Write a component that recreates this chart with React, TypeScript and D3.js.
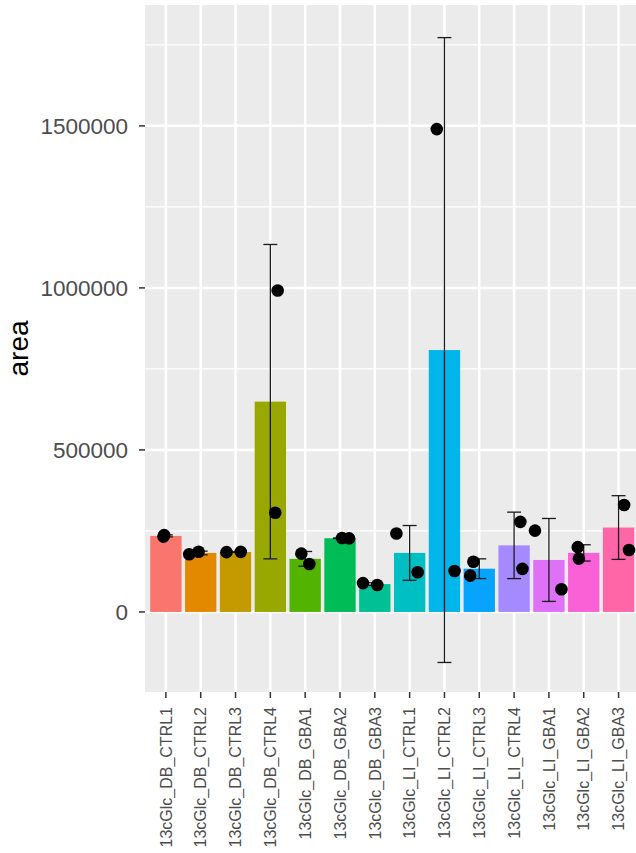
import React from "react";
import * as d3 from "d3";

const categories = [
  "13cGlc_DB_CTRL1", "13cGlc_DB_CTRL2", "13cGlc_DB_CTRL3", "13cGlc_DB_CTRL4",
  "13cGlc_DB_GBA1", "13cGlc_DB_GBA2", "13cGlc_DB_GBA3",
  "13cGlc_LI_CTRL1", "13cGlc_LI_CTRL2", "13cGlc_LI_CTRL3", "13cGlc_LI_CTRL4",
  "13cGlc_LI_GBA1", "13cGlc_LI_GBA2", "13cGlc_LI_GBA3",
];

// replicate measurements (two per sample)
const replicateA = [237000, 178000, 184500, 992000, 180000, 228000, 89000, 242000, 1490000, 155000, 278000, 251000, 200000, 330000];
const replicateB = [232500, 186000, 185500, 306000, 148000, 227000, 83000, 122500, 126500, 112000, 133000, 70000, 164500, 191000];
// horizontal jitter offsets (in category units)
const jitterA = [-0.05, -0.33, -0.26, 0.21, -0.11, 0.06, -0.34, -0.38, -0.22, -0.17, 0.18, -0.40, -0.17, 0.16];
const jitterB = [-0.07, -0.06, 0.15, 0.14, 0.12, 0.26, 0.07, 0.23, 0.29, -0.26, 0.24, 0.36, -0.14, 0.30];

const colors = [
  "#F8766D", "#E38900", "#C49A00", "#99A800", "#53B400", "#00BC56", "#00C094",
  "#00BFC4", "#00B6EB", "#06A4FF", "#A58AFF", "#DF70F8", "#FB61D7", "#FF66A8",
];

const yTicks = [0, 500000, 1000000, 1500000];
const yMinor = [-250000, 250000, 750000, 1250000, 1750000];
const yDomain = [-247000, 1873000];

const W = 636;
const H = 853;
const panelLeft = 145;
const panelTop = 5;
const panelBottom = 692;
const step = 34.82;
const panelRight = panelLeft + step * 14.2;

export default function App() {
  const x = d3
    .scaleBand<string>()
    .domain(categories)
    .range([panelLeft + 0.1 * step, panelRight - 0.1 * step])
    .paddingInner(0)
    .paddingOuter(0);
  const bw = x.bandwidth();
  const cx = (c: string) => (x(c) as number) + bw / 2;
  const y = d3.scaleLinear().domain(yDomain).range([panelBottom, panelTop]);

  const stats = categories.map((c, i) => {
    const vals = [replicateA[i], replicateB[i]];
    const m = d3.mean(vals) as number;
    const sd = d3.deviation(vals) as number;
    return { c, i, m, sd };
  });

  const font = "'Liberation Sans', Arial, Helvetica, sans-serif";
  const barW = 0.9 * step;
  const capW = 0.4 * step;

  return (
    <svg width={W} height={H} style={{ position: "absolute", left: 0, top: 0, background: "#fff" }} fontFamily={font}>
      <rect x={0} y={0} width={W} height={H} fill="#ffffff" />
      <rect x={panelLeft} y={panelTop} width={panelRight - panelLeft} height={panelBottom - panelTop} fill="#EBEBEB" />
      {yMinor.map((t) => (
        <line key={"mn" + t} x1={panelLeft} x2={panelRight} y1={y(t)} y2={y(t)} stroke="#fff" strokeWidth={1.2} />
      ))}
      {yTicks.map((t) => (
        <line key={"mj" + t} x1={panelLeft} x2={panelRight} y1={y(t)} y2={y(t)} stroke="#fff" strokeWidth={2.5} />
      ))}
      {categories.map((c) => (
        <line key={"vx" + c} x1={cx(c)} x2={cx(c)} y1={panelTop} y2={panelBottom} stroke="#fff" strokeWidth={2.5} />
      ))}
      {stats.map((s) => (
        <rect
          key={"bar" + s.c}
          x={cx(s.c) - barW / 2}
          y={y(Math.max(0, s.m))}
          width={barW}
          height={Math.abs(y(s.m) - y(0))}
          fill={colors[s.i]}
        />
      ))}
      {stats.map((s) => {
        const xc = cx(s.c);
        const top = y(s.m + s.sd);
        const bot = y(s.m - s.sd);
        return (
          <g key={"err" + s.c} stroke="#1a1a1a" strokeWidth={1.3}>
            <line x1={xc} x2={xc} y1={top} y2={bot} />
            <line x1={xc - capW / 2} x2={xc + capW / 2} y1={top} y2={top} />
            <line x1={xc - capW / 2} x2={xc + capW / 2} y1={bot} y2={bot} />
          </g>
        );
      })}
      {categories.map((c, i) => (
        <g key={"pt" + c}>
          <circle cx={cx(c) + jitterA[i] * step} cy={y(replicateA[i])} r={6.3} fill="#000" />
          <circle cx={cx(c) + jitterB[i] * step} cy={y(replicateB[i])} r={6.3} fill="#000" />
        </g>
      ))}
      {yTicks.map((t) => (
        <g key={"yt" + t}>
          <line x1={panelLeft - 6} x2={panelLeft} y1={y(t)} y2={y(t)} stroke="#333" strokeWidth={1.5} />
          <text x={panelLeft - 17} y={y(t)} dy="0.36em" textAnchor="end" fontSize={22.5} fill="#4D4D4D">
            {String(t)}
          </text>
        </g>
      ))}
      {categories.map((c) => (
        <g key={"xt" + c}>
          <line x1={cx(c)} x2={cx(c)} y1={panelBottom} y2={panelBottom + 6} stroke="#333" strokeWidth={1.5} />
          <text
            transform={`translate(${cx(c)},${panelBottom + 15}) rotate(-90)`}
            dy="0.36em"
            textAnchor="end"
            fontSize={16}
            fill="#4D4D4D"
          >
            {c}
          </text>
        </g>
      ))}
      <text transform={`translate(18,${(panelTop + panelBottom) / 2}) rotate(-90)`} dy="0.36em" textAnchor="middle" fontSize={28} fill="#000">
        area
      </text>
    </svg>
  );
}
